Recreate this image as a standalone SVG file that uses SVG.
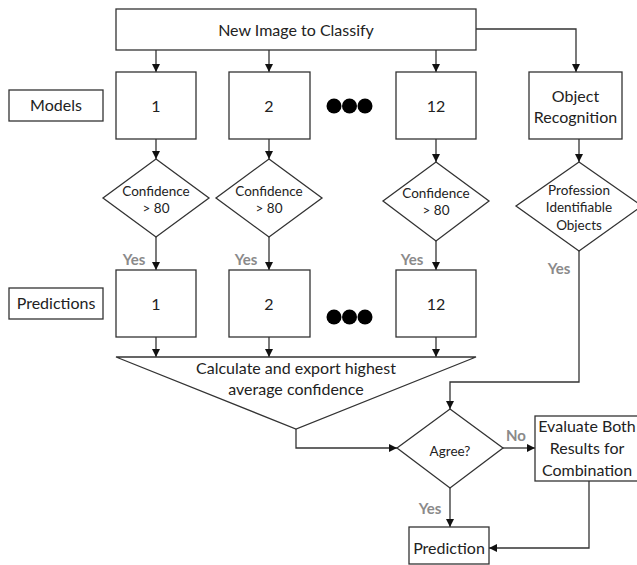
<svg xmlns="http://www.w3.org/2000/svg" width="637" height="565" viewBox="0 0 637 565">
<defs>
<marker id="ah" viewBox="0 0 10 10" refX="10" refY="5" markerWidth="8" markerHeight="8" markerUnits="userSpaceOnUse" orient="auto">
<path d="M0,0 L10,5 L0,10 Z" fill="#111"/>
</marker>
<style>
.box{fill:#fff;stroke:#333;stroke-width:1.3}
.ln{fill:none;stroke:#333;stroke-width:1.3}
.ar{fill:none;stroke:#333;stroke-width:1.3;marker-end:url(#ah)}
text{font-family:Lato,"Open Sans","Liberation Sans",sans-serif;fill:#222;text-anchor:middle}
.t16{font-size:16px}
.t13{font-size:13.5px}
.yes{font-size:15px;font-weight:bold;fill:#8a8a8a}
.dot{fill:#000}
</style>
</defs>
<rect width="637" height="565" fill="#fff"/>

<g id="connectors">
<path class="ar" d="M156,50 V72"/>
<path class="ar" d="M269,50 V72"/>
<path class="ar" d="M436,50 V72"/>
<path class="ar" d="M476,29 H576 V72"/>
<path class="ar" d="M156,139 V159"/>
<path class="ar" d="M269,139 V159"/>
<path class="ar" d="M436,139 V162"/>
<path class="ar" d="M579,139 V162"/>
<path class="ar" d="M156,237 V270"/>
<path class="ar" d="M269,237 V270"/>
<path class="ar" d="M436,241 V270"/>
<path class="ar" d="M156,337 V357"/>
<path class="ar" d="M269,337 V357"/>
<path class="ar" d="M436,337 V357"/>
<path class="ar" d="M296,429 V448 H397"/>
<path class="ar" d="M579,251 V382 H450 V409"/>
<path class="ar" d="M503,448 H535"/>
<path class="ar" d="M450,488 V527"/>
<path class="ar" d="M589,481 V548 H489"/>
<text class="yes" x="134" y="265">Yes</text>
<text class="yes" x="246" y="265">Yes</text>
<text class="yes" x="412" y="265">Yes</text>
<text class="yes" x="559" y="274">Yes</text>
<text class="yes" x="516" y="441">No</text>
<text class="yes" x="430" y="514">Yes</text>
</g>

<g id="new-image">
<rect class="box" x="116" y="9" width="360" height="41"/>
<text class="t16" x="296" y="36">New Image to Classify</text>
</g>

<g id="models-label">
<rect class="box" x="9" y="90" width="94" height="31"/>
<text class="t16" x="56" y="111">Models</text>
</g>
<g id="model-1">
<rect class="box" x="116" y="72" width="80" height="67"/>
<text class="t16" x="156" y="112">1</text>
</g>
<g id="model-2">
<rect class="box" x="229" y="72" width="81" height="67"/>
<text class="t16" x="269" y="112">2</text>
</g>
<g id="model-dots">
<circle class="dot" cx="334" cy="106" r="7.5"/>
<circle class="dot" cx="349.5" cy="106" r="7.5"/>
<circle class="dot" cx="365" cy="106" r="7.5"/>
</g>
<g id="model-12">
<rect class="box" x="396" y="72" width="80" height="67"/>
<text class="t16" x="436" y="112">12</text>
</g>
<g id="object-recognition">
<rect class="box" x="529" y="72" width="93" height="67"/>
<text class="t16" x="575.5" y="102">Object</text>
<text class="t16" x="575.5" y="123">Recognition</text>
</g>

<g id="conf-1">
<polygon class="box" points="156,159 209,198 156,237 103,198"/>
<text class="t13" x="156" y="196">Confidence</text>
<text class="t13" x="156" y="213">&gt; 80</text>
</g>
<g id="conf-2">
<polygon class="box" points="269,159 322,198 269,237 216,198"/>
<text class="t13" x="269" y="196">Confidence</text>
<text class="t13" x="269" y="213">&gt; 80</text>
</g>
<g id="conf-12">
<polygon class="box" points="436,162 489,201 436,241 383,201"/>
<text class="t13" x="436" y="198">Confidence</text>
<text class="t13" x="436" y="215">&gt; 80</text>
</g>
<g id="profession">
<polygon class="box" points="579,162 642,206 579,251 516,206"/>
<text class="t13" x="579" y="195">Profession</text>
<text class="t13" x="579" y="212">Identifiable</text>
<text class="t13" x="579" y="230">Objects</text>
</g>

<g id="predictions-label">
<rect class="box" x="9" y="288" width="94" height="31"/>
<text class="t16" x="56" y="309">Predictions</text>
</g>
<g id="pred-1">
<rect class="box" x="116" y="270" width="80" height="67"/>
<text class="t16" x="156" y="310">1</text>
</g>
<g id="pred-2">
<rect class="box" x="229" y="270" width="81" height="67"/>
<text class="t16" x="269" y="310">2</text>
</g>
<g id="pred-dots">
<circle class="dot" cx="334" cy="317" r="7.5"/>
<circle class="dot" cx="349.5" cy="317" r="7.5"/>
<circle class="dot" cx="365" cy="317" r="7.5"/>
</g>
<g id="pred-12">
<rect class="box" x="396" y="270" width="80" height="67"/>
<text class="t16" x="436" y="310">12</text>
</g>

<g id="calculate">
<polygon class="box" points="116,357 476,357 296,429"/>
<text class="t16" x="296" y="374">Calculate and export highest</text>
<text class="t16" x="296" y="395">average confidence</text>
</g>

<g id="agree">
<polygon class="box" points="450,409 503,448 450,488 397,448"/>
<text class="t13" x="450" y="456">Agree?</text>
</g>

<g id="evaluate">
<rect class="box" x="535" y="416" width="103" height="65"/>
<text class="t16" x="587" y="432">Evaluate Both</text>
<text class="t16" x="587" y="454">Results for</text>
<text class="t16" x="587" y="476">Combination</text>
</g>

<g id="prediction">
<rect class="box" x="409" y="527" width="80" height="37"/>
<text class="t16" x="449" y="554">Prediction</text>
</g>
</svg>
